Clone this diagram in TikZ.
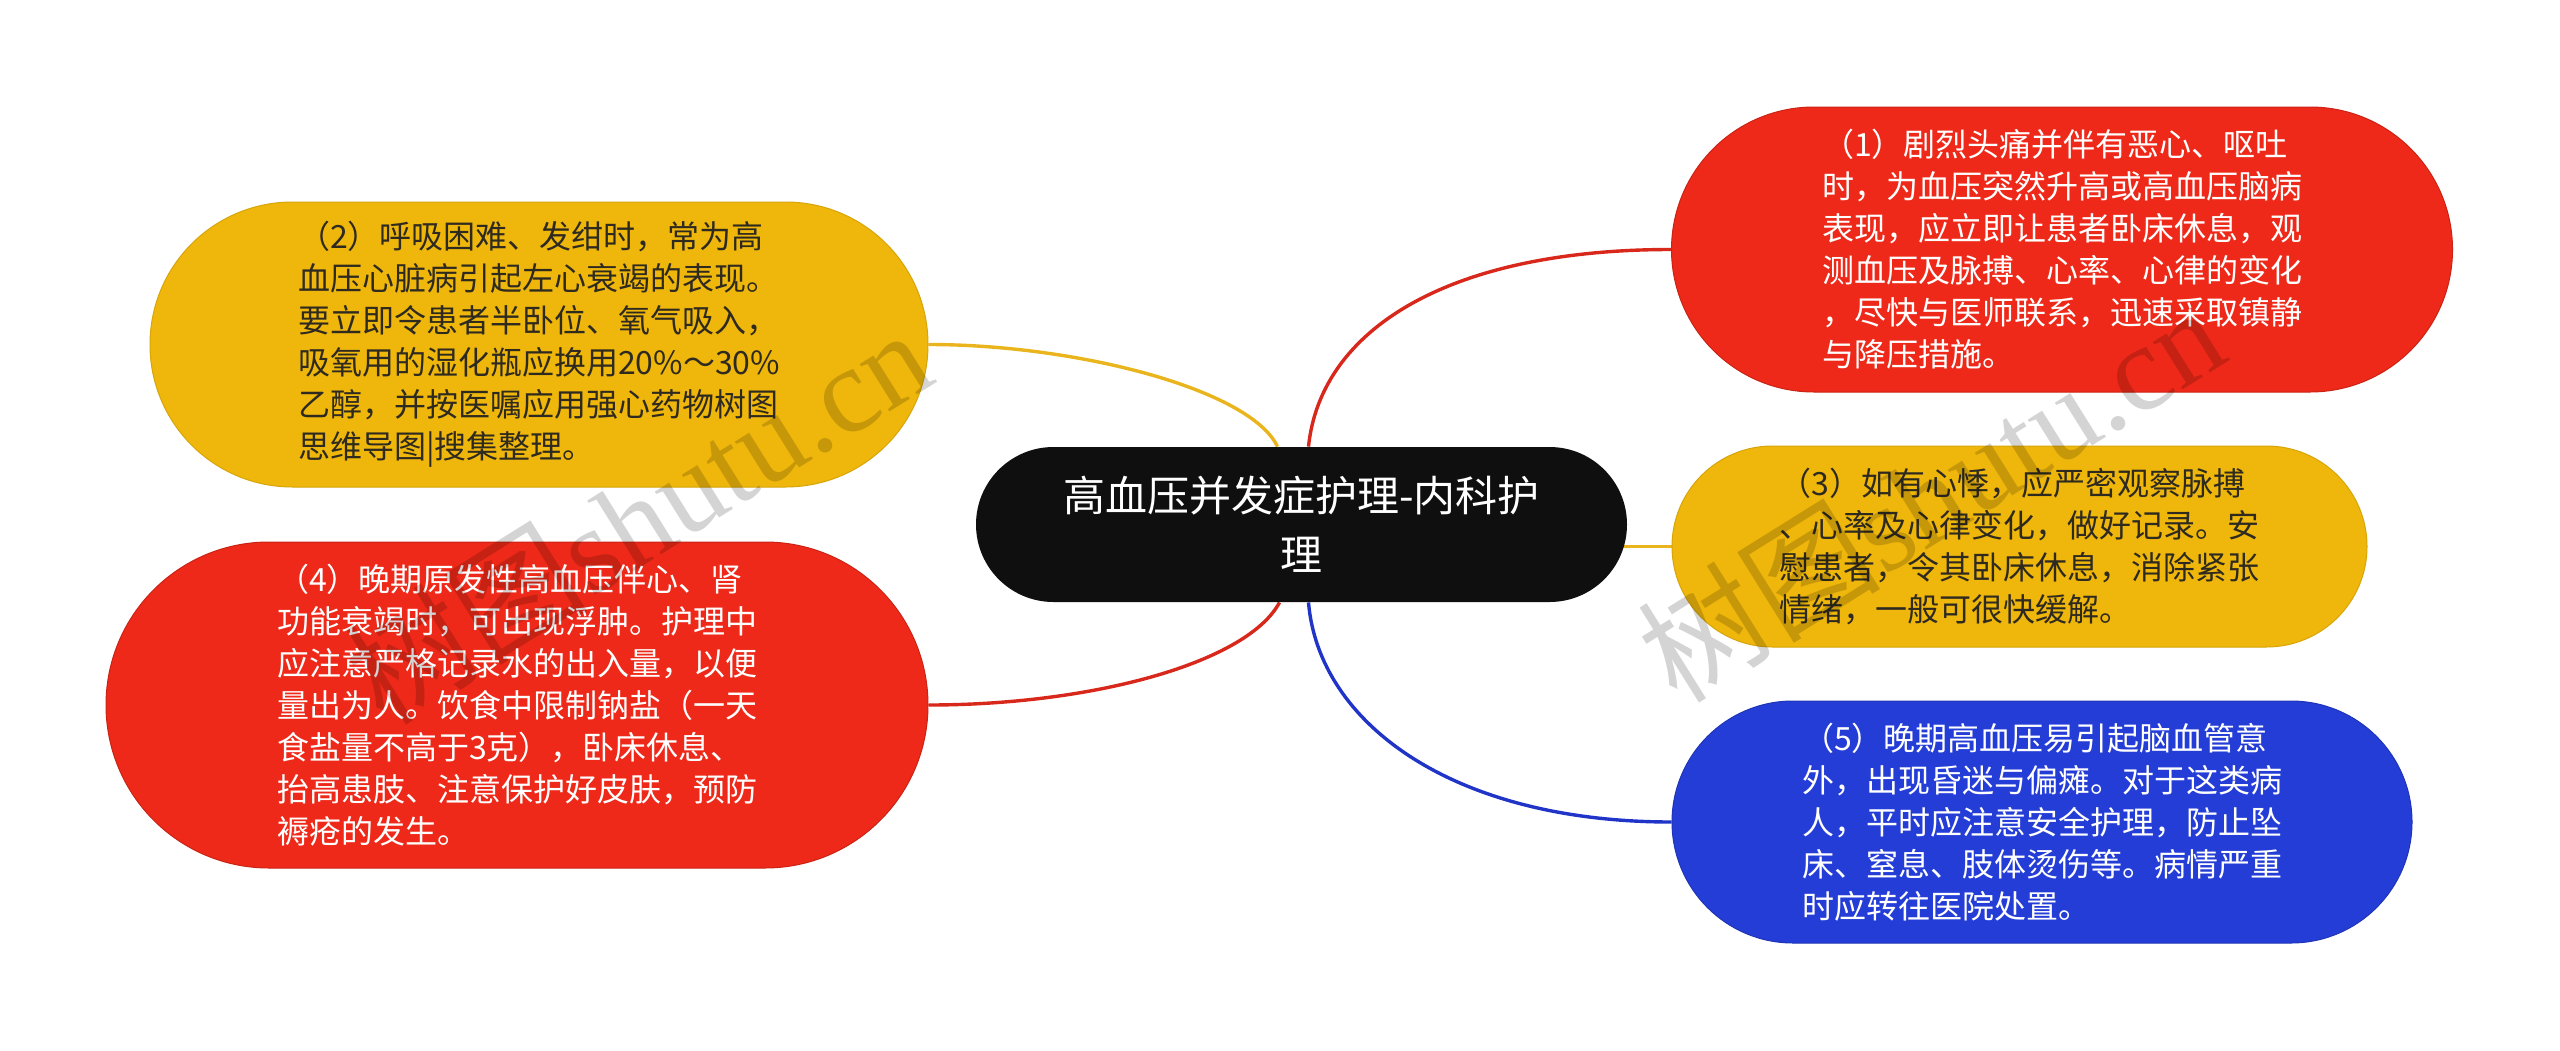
\documentclass[tikz,border=0pt]{standalone}
\usepackage{fontspec}
\newfontfamily\cjk{Noto Sans CJK SC}
\newfontfamily\wmserif{Liberation Serif}
\usetikzlibrary{shapes.misc,backgrounds}

\definecolor{boxred}{HTML}{EE2919}
\definecolor{boxyellow}{HTML}{EFB70B}
\definecolor{boxblue}{HTML}{243DD6}
\definecolor{rootblack}{HTML}{0F0F0F}
\definecolor{linered}{HTML}{D8281B}
\definecolor{lineyellow}{HTML}{E9B41C}
\definecolor{lineblue}{HTML}{2035C8}
\definecolor{darktext}{HTML}{2E2A20}

\begin{document}
\begin{tikzpicture}[x=0.5pt,y=-0.5pt,
    root/.style={rounded rectangle, fill=rootblack, text=white, align=center,
        font=\cjk\fontsize{21}{29.5}\selectfont, minimum width=325.5pt, minimum height=77.5pt, inner sep=0pt},
    care/.style={rounded rectangle, align=left, inner sep=0pt, line width=0.5pt,
        font=\cjk\fontsize{16}{21}\selectfont},
    redcare/.style={care, fill=boxred, draw=boxred!85!black, text=white},
    yellowcare/.style={care, fill=boxyellow, draw=boxyellow!90!black, text=darktext},
    bluecare/.style={care, fill=boxblue, draw=boxblue!85!black, text=white},
    link/.style={line width=1.7pt},
    wmark/.style={text=black, opacity=0.17, rotate=32, font=\wmserif\fontsize{61}{61}\selectfont}
]

\useasboundingbox (0,0) rectangle (2560,1050);

% Root topic
\node[root] at (1301.5,524.5) (topic) {高血压并发症护理-内科护\\理};

% Right branches
\node[redcare, minimum width=390.5pt, minimum height=142.5pt] at (2062,249.5) (care1) {（1）剧烈头痛并伴有恶心、呕吐\\时，为血压突然升高或高血压脑病\\表现，应立即让患者卧床休息，观\\测血压及脉搏、心率、心律的变化\\，尽快与医师联系，迅速采取镇静\\与降压措施。};
\node[yellowcare, minimum width=347.5pt, minimum height=100.5pt] at (2019.5,546.5) (care3) {（3）如有心悸，应严密观察脉搏\\、心率及心律变化，做好记录。安\\慰患者，令其卧床休息，消除紧张\\情绪，一般可很快缓解。};
\node[bluecare, minimum width=370pt, minimum height=121pt] at (2042,822) (care5) {（5）晚期高血压易引起脑血管意\\外，出现昏迷与偏瘫。对于这类病\\人，平时应注意安全护理，防止坠\\床、窒息、肢体烫伤等。病情严重\\时应转往医院处置。};

% Left branches
\node[yellowcare, minimum width=389pt, minimum height=142.5pt] at (539,344.5) (care2) {（2）呼吸困难、发绀时，常为高\\血压心脏病引起左心衰竭的表现。\\要立即令患者半卧位、氧气吸入，\\吸氧用的湿化瓶应换用20\%～30\%\\乙醇，并按医嘱应用强心药物树图\\思维导图|搜集整理。};
\node[redcare, minimum width=411pt, minimum height=163pt] at (517,705) (care4) {（4）晚期原发性高血压伴心、肾\\功能衰竭时，可出现浮肿。护理中\\应注意严格记录水的出入量，以便\\量出为人。饮食中限制钠盐（一天\\食盐量不高于3克），卧床休息、\\抬高患肢、注意保护好皮肤，预防\\褥疮的发生。};

% Curved links behind the boxes
\begin{scope}[on background layer]
\fill[white] (0,0) rectangle (2560,1050);
\draw[link, linered] ([xshift=3.5pt]topic.north) .. controls +(12,-117) and +(-223,0) .. (care1.west);
\draw[link, lineyellow] ([xshift=-12pt]topic.north) .. controls +(-27,-57) and +(149,0) .. (care2.east);
\draw[link, lineyellow] (topic.center |- care3.west) -- (care3.west);
\draw[link, linered] ([xshift=-11pt]topic.south) .. controls +(-32,60) and +(165,0) .. (care4.east);
\draw[link, lineblue] ([xshift=3.5pt]topic.south) .. controls +(10,120) and +(-220,0) .. (care5.west);
\end{scope}

% Site marks
\node[wmark] at (637,515) (markleft) {{\cjk 树图}shutu.cn};
\node[wmark] at (1930,493) (markright) {{\cjk 树图}shutu.cn};

\end{tikzpicture}
\end{document}
